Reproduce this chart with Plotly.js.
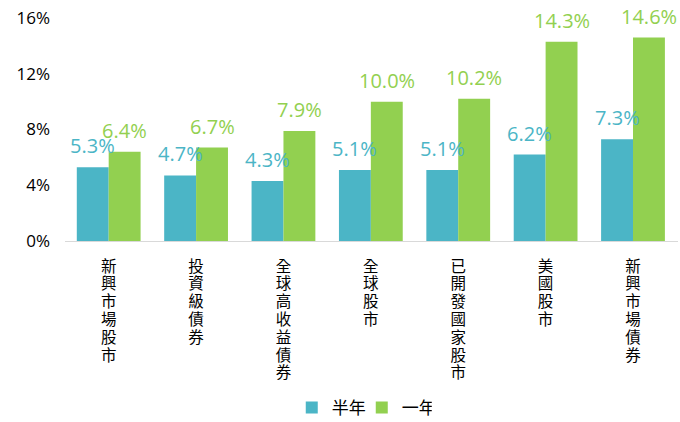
<!DOCTYPE html>
<html><head><meta charset="utf-8">
<script src="https://cdn.plot.ly/plotly-3.0.1.min.js"></script>
<style>html,body{margin:0;padding:0;background:#fff}</style>
</head><body>
<div id="chart" style="width:680px;height:422px"></div>
<script>
const categories = ["新興市場股市","投資級債券","全球高收益債券","全球股市","已開發國家股市","美國股市","新興市場債券"];
const halfYear = [5.3, 4.7, 4.3, 5.1, 5.1, 6.2, 7.3];
const oneYear = [6.4, 6.7, 7.9, 10.0, 10.2, 14.3, 14.6];
const seriesNames = ["半年","一年"];
const yTicks = [0, 4, 8, 12, 16];

const FONT = "Open Sans, Noto Sans CJK TC, sans-serif";
const CJK = "Noto Sans CJK TC, sans-serif";
const teal = "#4BB5C6", green = "#92D050";

const mk = (name, vals, color) => ({
  type: "bar", name: name, x: categories, y: vals,
  marker: {color: color}, hoverinfo: "none"
});

const annots = [];
[[halfYear, teal, -16], [oneYear, green, 16]].forEach(([vals, color, xs]) => {
  vals.forEach((v, i) => annots.push({
    x: categories[i], y: v, xref: "x", yref: "y", text: v.toFixed(1) + "%",
    showarrow: false, xanchor: "center", yanchor: "bottom", xshift: xs, yshift: 7,
    borderpad: 0, font: {color: color, size: 20, family: FONT}
  }));
});

const data = [mk(seriesNames[0], halfYear, teal), mk(seriesNames[1], oneYear, green)];
const layout = {
  width: 680, height: 422,
  margin: {l: 65, r: 2, t: 18, b: 181},
  barmode: "group", bargap: 0.27, bargroupgap: 0,
  font: {family: FONT, size: 17, color: "#000"},
  xaxis: {
    tickmode: "array", tickvals: categories, ticktext: categories,
    tickangle: 0, showline: true, linecolor: "#d9d9d9", linewidth: 1,
    ticks: "", tickfont: {size: 15.5, family: CJK}
  },
  yaxis: {
    range: [0, 16], tickmode: "array", tickvals: yTicks,
    ticktext: yTicks.map(v => v + "%"), showgrid: false, zeroline: false,
    showline: false, ticks: "", ticklabelstandoff: 14, tickfont: {size: 17}
  },
  annotations: annots,
  showlegend: true,
  legend: {orientation: "h", xref: "container", yref: "container", x: 0.532, y: 0.033,
           xanchor: "center", yanchor: "middle", itemwidth: 30,
           entrywidth: 25, entrywidthmode: "pixels",
           font: {size: 17, family: CJK}},
  plot_bgcolor: "#fff", paper_bgcolor: "#fff"
};

// Render the category tick labels as upright vertical text (as in the reference)
function verticalTicks() {
  const gd = document.getElementById("chart");
  const axisY = gd._fullLayout._size.t + gd._fullLayout._size.h;
  gd.querySelectorAll(".xtick text").forEach(t => {
    t.setAttribute("text-anchor", "start");
    t.style.writingMode = "vertical-rl";
    t.style.textOrientation = "upright";
    t.style.letterSpacing = "2.3px";
    t.setAttribute("y", axisY + 17);
    t.removeAttribute("dy");
    t.querySelectorAll("tspan").forEach(s => s.removeAttribute("dy"));
  });
}
Plotly.newPlot("chart", data, layout, {displayModeBar: false, staticPlot: true}).then(gd => {
  verticalTicks();
  gd.on("plotly_afterplot", verticalTicks);
});
</script>
</body></html>
